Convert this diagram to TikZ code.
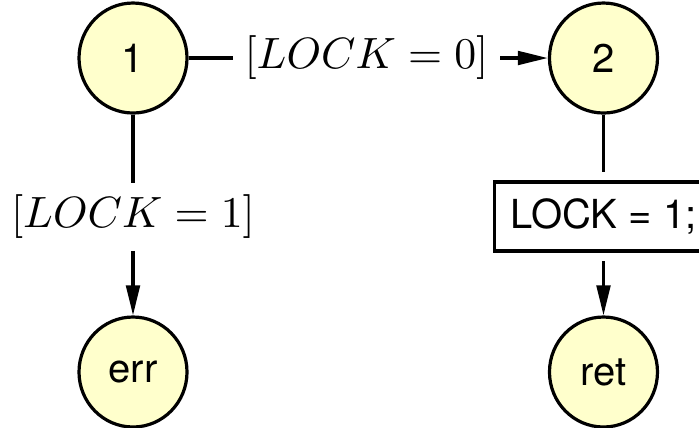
\documentclass[tikz,border=0pt]{standalone}
\usepackage{amsmath}
\usepackage{fontspec}
\setsansfont{TeX Gyre Heros}
\usetikzlibrary{shapes.geometric,arrows.meta}
\definecolor{nodefill}{RGB}{255,255,204}

\begin{document}
\begin{tikzpicture}[x=1cm,y=1cm,line width=.8pt,
  state/.style={ellipse,draw,fill=nodefill,inner sep=0pt,minimum width=27pt,minimum height=27.5pt,font=\sffamily},
  stmt/.style={rectangle,draw,inner sep=0pt,outer sep=2.5pt,minimum width=54.5pt,minimum height=17.25pt,font=\sffamily},
  guard/.style={inner sep=2.6pt,font=\fontsize{11}{13}\selectfont},
  >={Triangle[length=7.5pt,width=3.4pt]}]
\useasboundingbox (0,0) rectangle (6.1415,3.7517);
\clip (0,0) rectangle (6.1415,3.7517);
\node[state] (n1) at (1.1686,3.2420) {1};
\node[state] (n2) at (5.3023,3.2420) {2};
\node[state] (err) at (1.1686,0.4832) {err};
\node[state] (ret) at (5.3023,0.4832) {ret};
\node[stmt] (set) at (5.3023,1.8494) {LOCK = 1;};
\node[guard] (g0) at (3.2201,3.2420) {$[LOCK=0]$};
\node[guard] (g1) at (1.1686,1.8451) {$[LOCK=1]$};
\draw (n1)--(g0);
\draw[->] (g0)--(n2);
\draw (n1)--(g1);
\draw[->] (g1)--(err);
\draw (n2)--(set);
\draw[->] (set)--(ret);
\end{tikzpicture}
\end{document}
